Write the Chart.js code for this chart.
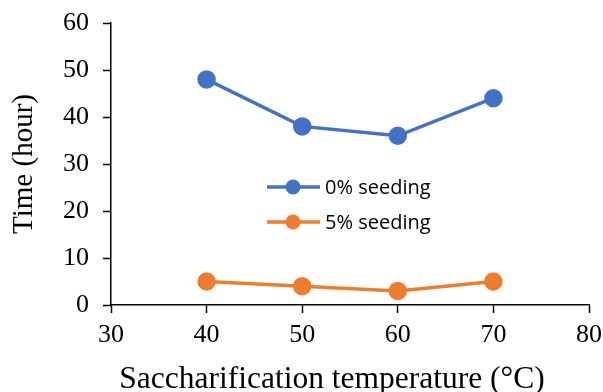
<!DOCTYPE html>
<html>
<head>
<meta charset="utf-8">
<script src="https://cdn.jsdelivr.net/npm/chart.js@4/dist/chart.umd.min.js"></script>
<style>
  html, body { margin: 0; padding: 0; background: #fff; }
  #wrap { width: 603px; height: 392px; }
</style>
</head>
<body>
<div id="wrap"><canvas id="chart" width="603" height="392"></canvas></div>
<script>
const temperatures = [40, 50, 60, 70];
const seeding0 = [48, 38, 36, 44];
const seeding5 = [5, 4, 3, 5];
const seriesNames = ['0% seeding', '5% seeding'];
const seriesColors = ['#4472C4', '#ED7D31'];
const xTitle = 'Saccharification temperature (°C)';
const yTitle = 'Time (hour)';

const serif = "'Liberation Serif', 'Times New Roman', serif";

// legend sits inside the plot, drawn by hand like the office chart
const insideLegend = {
  id: 'insideLegend',
  afterDraw(chart) {
    const ctx = chart.ctx;
    const rows = [187, 222];
    ctx.save();
    chart.data.datasets.forEach((ds, i) => {
      const y = rows[i];
      ctx.strokeStyle = ds.borderColor;
      ctx.lineWidth = 3.5;
      ctx.beginPath();
      ctx.moveTo(267, y);
      ctx.lineTo(320, y);
      ctx.stroke();
      ctx.fillStyle = ds.backgroundColor;
      ctx.beginPath();
      ctx.arc(293, y, 7.5, 0, Math.PI * 2);
      ctx.fill();
      ctx.fillStyle = '#000';
      ctx.font = "20px 'Open Sans', sans-serif";
      ctx.textBaseline = 'middle';
      ctx.fillText(ds.label, 325, y + 1);
    });

    // x title is a bit left of the plot centre in the original
    const area = chart.chartArea;
    ctx.font = '31.5px ' + serif;
    ctx.fillStyle = '#000';
    ctx.textAlign = 'center';
    ctx.textBaseline = 'alphabetic';
    ctx.fillText(xTitle, (area.left + area.right) / 2 - 18, 388);
    ctx.restore();
  }
};

const noOverflow = (scale) => {
  scale.paddingTop = 0;
  scale.paddingBottom = 0;
  scale.paddingLeft = 0;
  scale.paddingRight = 0;
};

new Chart(document.getElementById('chart'), {
  type: 'line',
  data: {
    datasets: [seeding0, seeding5].map((vals, i) => ({
      label: seriesNames[i],
      data: vals.map((v, j) => ({ x: temperatures[j], y: v })),
      borderColor: seriesColors[i],
      backgroundColor: seriesColors[i],
      borderWidth: 3.5,
      pointRadius: 7.5,
      pointHoverRadius: 7.5,
      tension: 0,
    }))
  },
  options: {
    responsive: false,
    animation: false,
    devicePixelRatio: 1,
    layout: { padding: { top: 23, right: 14, left: 0, bottom: 0 } },
    plugins: {
      legend: { display: false },
      tooltip: { enabled: false }
    },
    scales: {
      x: {
        type: 'linear',
        min: 30,
        max: 80,
        ticks: { stepSize: 10, color: '#000', font: { family: serif, size: 26 }, padding: 7 },
        grid: { drawOnChartArea: false, drawTicks: true, tickLength: 8, tickColor: '#000', tickWidth: 1.5 },
        border: { color: '#000', width: 1.5 },
        afterFit(scale) { scale.height = 87; noOverflow(scale); }
      },
      y: {
        min: 0,
        max: 60,
        ticks: { stepSize: 10, color: '#000', font: { family: serif, size: 26 }, padding: 14 },
        grid: { drawOnChartArea: false, drawTicks: true, tickLength: 8, tickColor: '#000', tickWidth: 1.5 },
        border: { color: '#000', width: 1.5 },
        title: {
          display: true,
          text: yTitle,
          color: '#000',
          font: { family: serif, size: 29, lineHeight: 1 },
          padding: { top: 10, bottom: 0 }
        },
        afterFit(scale) { scale.width = 111; noOverflow(scale); }
      }
    }
  },
  plugins: [insideLegend]
});
</script>
</body>
</html>
